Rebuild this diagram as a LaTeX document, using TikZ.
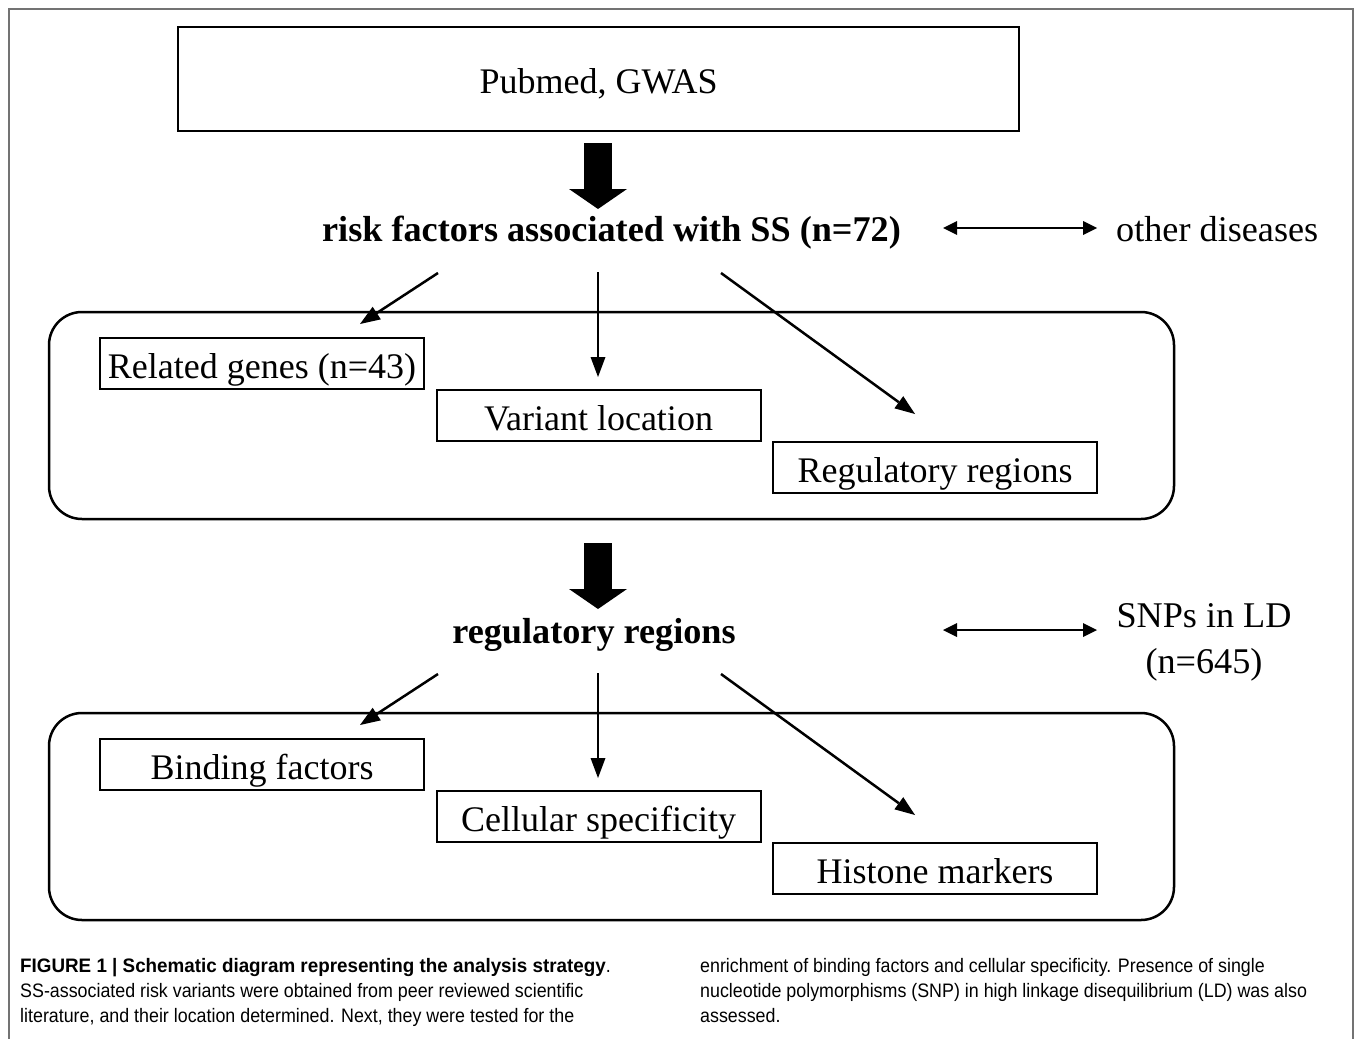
\documentclass[tikz,border=0pt]{standalone}
\usepackage{fontspec}
\setmainfont{Liberation Serif}
\newfontfamily\capfont[FakeStretch=0.915, BoldFeatures={FakeStretch=0.965}]{Liberation Sans}
\usetikzlibrary{arrows.meta}
\begin{document}
\begin{tikzpicture}[x=1pt,y=-1pt,
  frame/.style={draw=black!55, line width=2pt},
  bigtxt/.style={inner sep=0pt, font=\fontsize{36.2}{40}\selectfont},
  bigbold/.style={inner sep=0pt, font=\fontsize{36.2}{40}\selectfont\bfseries},
  lblbox/.style={draw, line width=2pt, inner sep=0pt, minimum width=324pt, minimum height=51pt,
     text height=30pt, text depth=0pt, font=\fontsize{36}{40}\selectfont},
  srcbox/.style={draw, line width=2.5pt, inner sep=0pt, minimum width=841pt, minimum height=104pt,
     text height=28pt, text depth=0pt, font=\fontsize{36}{40}\selectfont},
  grpbox/.style={draw, line width=2.5pt, rounded corners=33pt, minimum width=1125pt, minimum height=207pt},
  thinarr/.style={line width=2.5pt, -{Triangle[length=20pt,width=15pt,line width=0pt]}},
  dblarr/.style={line width=2.5pt, {Triangle[length=14pt,width=14pt,line width=0pt]}-{Triangle[length=14pt,width=14pt,line width=0pt]}},
  fatarr/.style={line width=28pt, -{Triangle[length=20pt,width=58pt,line width=0pt]}},
  captxt/.style={inner sep=0pt, anchor=base west, font=\capfont\fontsize{19.5}{25}\selectfont}
]
\useasboundingbox (0,0) rectangle (1355,1039);
\fill[white] (0,0) rectangle (1355,1039);
\draw[frame] (9,1039) -- (9,9) -- (1353,9) -- (1353,1039);

% top source box
\node[srcbox] (src) at (598.5,79) {Pubmed, GWAS};

% fat arrow 1
\coordinate (f1s) at (598,143);
\coordinate (f1e) at (598,209);
\draw[fatarr] (f1s) -- (f1e);

\node[bigbold, anchor=base] (risk) at (611.5,241) {risk factors associated with SS (n=72)};
\node[bigtxt, anchor=base west] (other) at (1116,241) {other diseases};
\coordinate (d1s) at (943,228);
\coordinate (d1e) at (1097,228);
\draw[dblarr] (d1s) -- (d1e);

% group 1
\node[grpbox] (grp1) at (611.5,415.5) {};
\node[lblbox] (genes) at (262,363.5) {Related genes (n=43)};
\node[lblbox] (varloc) at (598.5,415.5) {Variant location};
\node[lblbox] (regreg) at (935,467.5) {Regulatory regions};

\coordinate (a1s) at (438,273); \coordinate (a1e) at (360,324);
\coordinate (a2s) at (598,272); \coordinate (a2e) at (598,377);
\coordinate (a3s) at (721,273); \coordinate (a3e) at (915,414);
\draw[thinarr] (a1s) -- (a1e);
\draw[thinarr] (a2s) -- (a2e);
\draw[thinarr] (a3s) -- (a3e);

% fat arrow 2
\coordinate (f2s) at (598,543);
\coordinate (f2e) at (598,609);
\draw[fatarr] (f2s) -- (f2e);

\node[bigbold, anchor=base] (reg) at (594,643) {regulatory regions};
\node[bigtxt, anchor=base] (snp) at (1204,627) {SNPs in LD};
\node[bigtxt, anchor=base] (snpn) at (1204,673) {(n=645)};
\coordinate (d2s) at (943,630);
\coordinate (d2e) at (1097,630);
\draw[dblarr] (d2s) -- (d2e);

% group 2
\node[grpbox] (grp2) at (611.5,816.5) {};
\node[lblbox] (bind) at (262,764.5) {Binding factors};
\node[lblbox] (cell) at (598.5,816.5) {Cellular specificity};
\node[lblbox] (hist) at (935,868.5) {Histone markers};

\coordinate (b1s) at (438,674); \coordinate (b1e) at (360,725);
\coordinate (b2s) at (598,673); \coordinate (b2e) at (598,778);
\coordinate (b3s) at (721,674); \coordinate (b3e) at (915,815);
\draw[thinarr] (b1s) -- (b1e);
\draw[thinarr] (b2s) -- (b2e);
\draw[thinarr] (b3s) -- (b3e);

% caption
\node[captxt] (c1) at (20,972) {\textbf{FIGURE 1 | Schematic diagram representing the analysis strategy}.};
\node[captxt] (c2) at (20,997) {SS-associated risk variants were obtained from peer reviewed scientific};
\node[captxt] (c3) at (20,1022) {literature, and their location determined. Next, they were tested for the};
\node[captxt] (c4) at (700,972) {enrichment of binding factors and cellular specificity. Presence of single};
\node[captxt] (c5) at (700,997) {nucleotide polymorphisms (SNP) in high linkage disequilibrium (LD) was also};
\node[captxt] (c6) at (700,1022) {assessed.};
\end{tikzpicture}
\end{document}
